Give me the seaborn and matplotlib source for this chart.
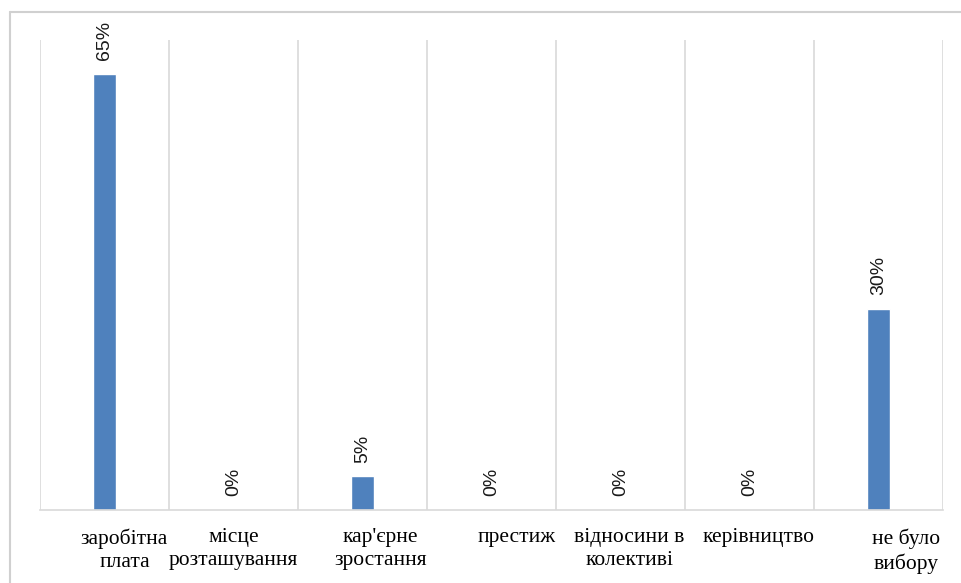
import matplotlib
matplotlib.use("Agg")
import matplotlib.pyplot as plt
from matplotlib.lines import Line2D
from matplotlib.transforms import ScaledTranslation
import seaborn as sns
import pandas as pd

categories = ["заробітна\nплата", "місце\nрозташування", "кар'єрне\nзростання",
              "престиж", "відносини в\nколективі", "керівництво", "не було\nвибору"]
values = [65, 0, 5, 0, 0, 0, 30]
value_labels = ["65%", "0%", "5%", "0%", "0%", "0%", "30%"]

bar_color = "#4F81BD"
grid_color = "#D9D9D9"
# horizontal nudges (pixels) of the wrapped category labels, as in the original
label_dx_px = [20, 0, 18, 25, 9, 9, 28]

sns.set_theme(style="white")

W, H = 962, 583
fig = plt.figure(figsize=(W / 100, H / 100), dpi=100)
ax = fig.add_axes([40 / W, 1 - 510 / H, (943 - 40) / W, (510 - 40) / H])

df = pd.DataFrame({"cat": categories, "val": values})
sns.barplot(data=df, x="cat", y="val", color=bar_color, saturation=1,
            width=0.18, ax=ax)

ax.set_xlim(-0.5, len(categories) - 0.5)
ax.set_ylim(0, 70)
ax.set_xlabel("")
ax.set_ylabel("")
ax.set_yticks([])

# category separators
ax.set_xticks([i + 0.5 for i in range(-1, len(categories))], minor=True)
ax.grid(False)
ax.grid(True, which="minor", axis="x", color=grid_color, linewidth=1.2)
ax.tick_params(axis="x", which="both", length=0)
ax.tick_params(axis="x", which="major", pad=13)

for side in ["left", "right", "top"]:
    ax.spines[side].set_visible(False)
ax.spines["bottom"].set_color(grid_color)
ax.spines["bottom"].set_linewidth(1.2)

for lab, dx in zip(ax.get_xticklabels(), label_dx_px):
    lab.set_fontfamily("Liberation Serif")
    lab.set_fontsize(15.5)
    lab.set_color("#000000")
    lab.set_linespacing(1.3)
    lab.set_transform(lab.get_transform() + ScaledTranslation(dx / 100, 0, fig.dpi_scale_trans))

for i, (v, t) in enumerate(zip(values, value_labels)):
    ax.annotate(t, xy=(i, v), xytext=(0, 10), textcoords="offset points",
                rotation=90, ha="center", va="bottom",
                fontfamily="Liberation Sans", fontsize=14, color="#1a1a1a",
                annotation_clip=False)

# chart-area border (top and left visible)
fig.add_artist(Line2D([10 / W, 1], [1 - 12 / H, 1 - 12 / H],
                      transform=fig.transFigure, color="#D0D0D0", linewidth=1.5))
fig.add_artist(Line2D([10 / W, 10 / W], [0, 1 - 12 / H],
                      transform=fig.transFigure, color="#D0D0D0", linewidth=1.5))

fig.savefig("out.png", dpi=100, facecolor="white")
